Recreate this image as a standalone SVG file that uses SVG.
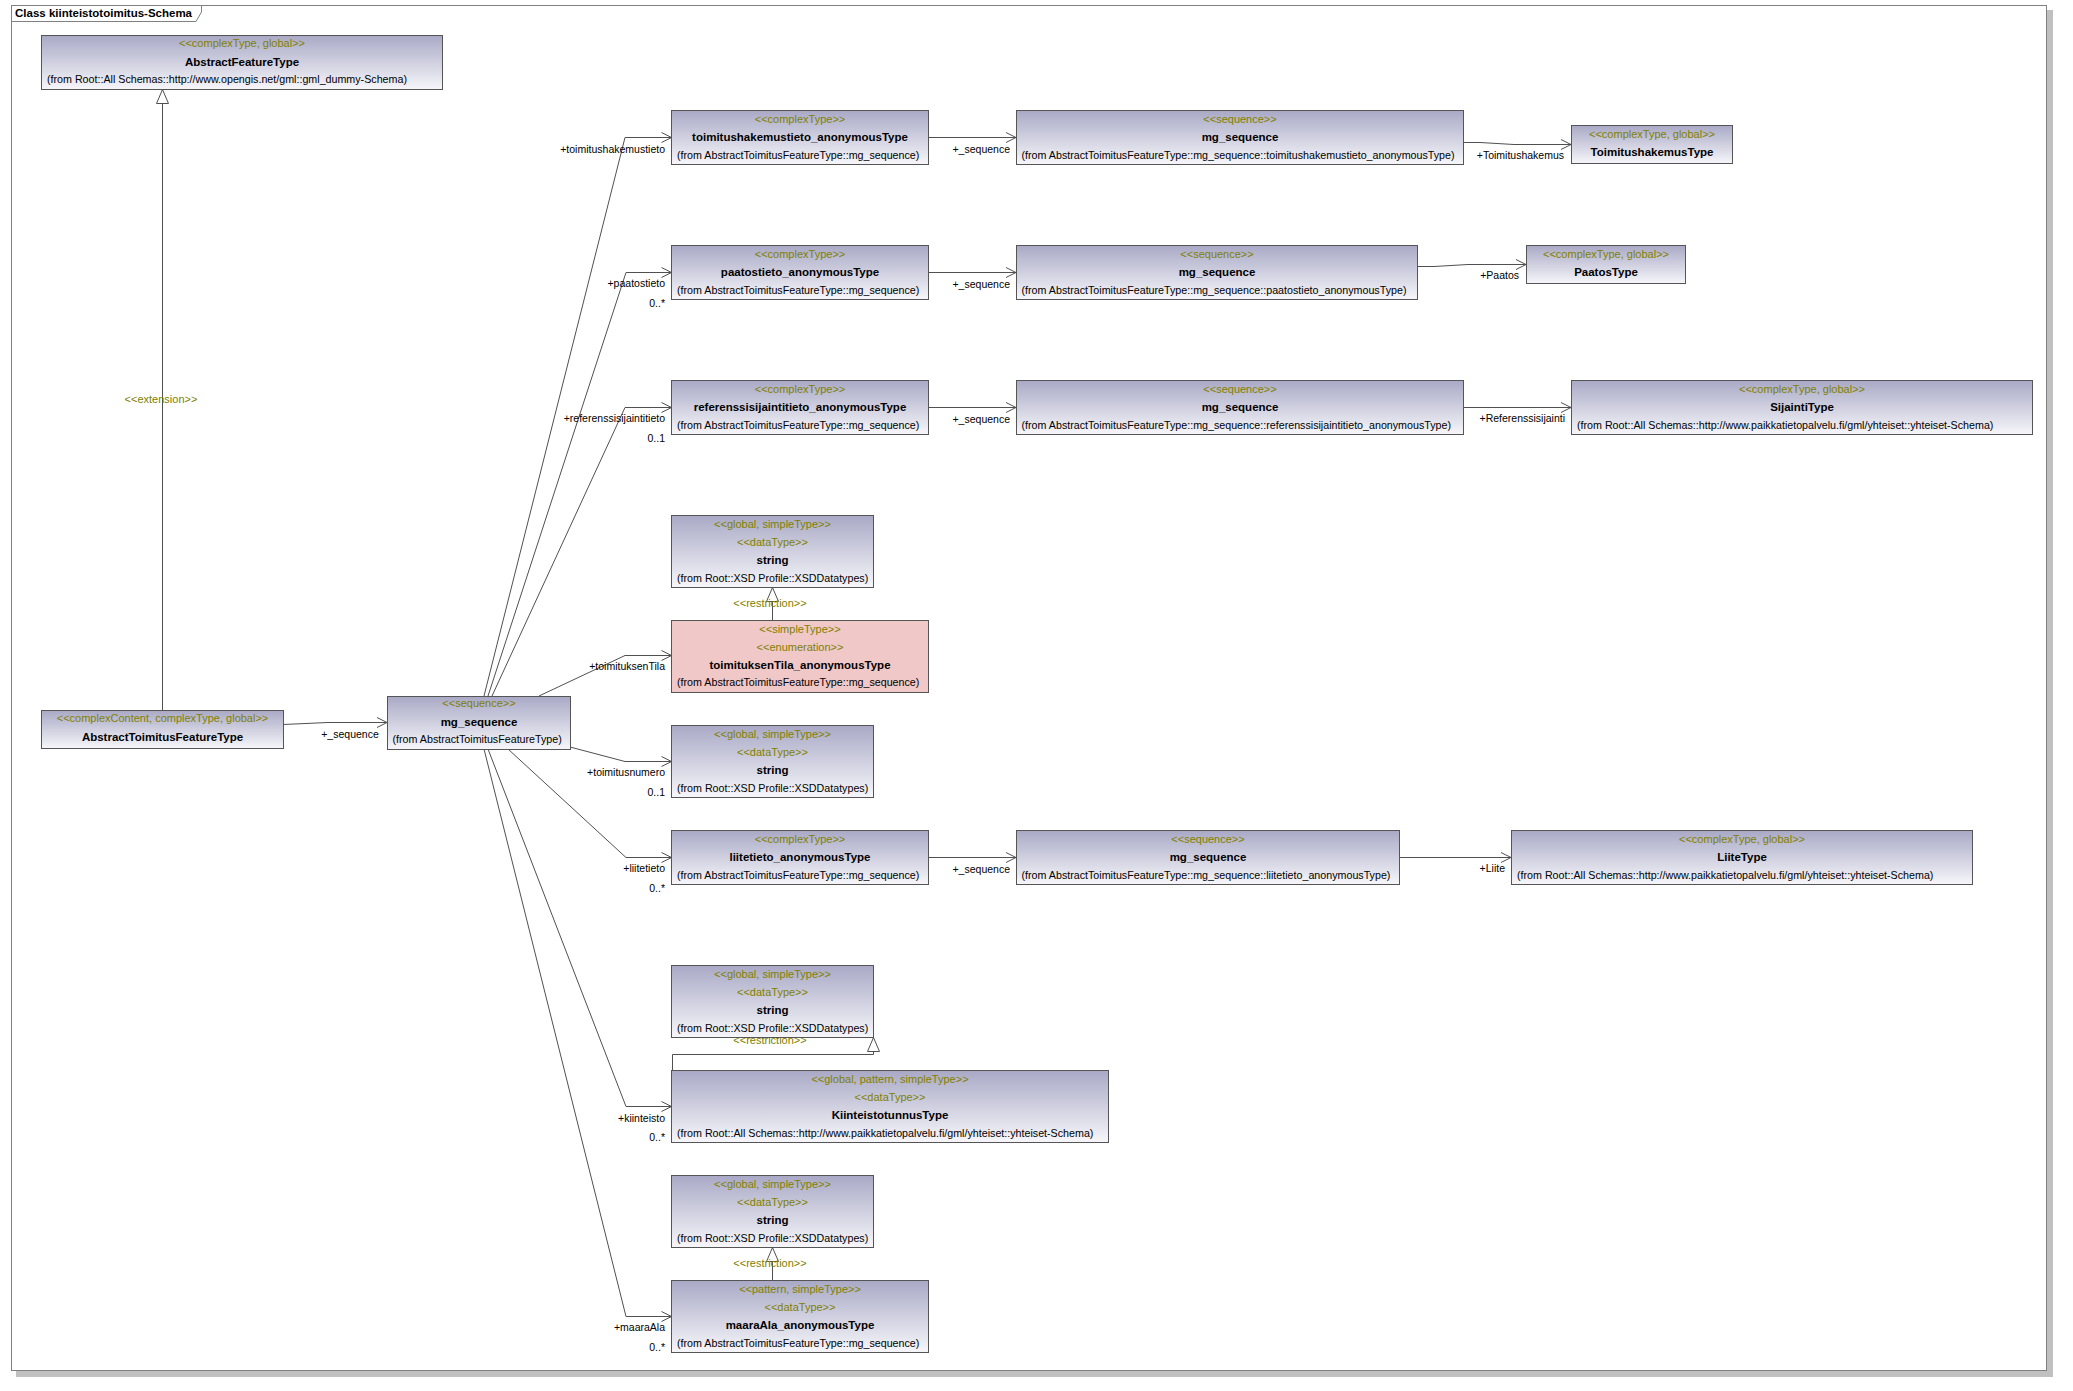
<svg xmlns="http://www.w3.org/2000/svg" width="2073" height="1391" viewBox="0 0 2073 1391">
<defs>
<linearGradient id="g" x1="0" y1="0" x2="0" y2="1">
<stop offset="0" stop-color="#a9a9c6"/>
<stop offset="1" stop-color="#f6f6fa"/>
</linearGradient>
<marker id="open" viewBox="0 0 12 12" refX="11" refY="6" markerWidth="12" markerHeight="12" markerUnits="userSpaceOnUse" orient="auto">
<path d="M1,1 L11,6 L1,11" fill="none" stroke="#505050" stroke-width="1"/>
</marker>
<marker id="tri" viewBox="0 0 16 14" refX="15" refY="7" markerWidth="16" markerHeight="14" markerUnits="userSpaceOnUse" orient="auto">
<path d="M1,1 L15,7 L1,13 Z" fill="#ffffff" stroke="#505050" stroke-width="1"/>
</marker>
<style>
.box{fill:url(#g);stroke:#555555;stroke-width:1}
.pink{fill:#f0c8c8;stroke:#555555;stroke-width:1}
text{font-family:"Liberation Sans",Arial,sans-serif}
.st{font-size:11px;fill:#808000;text-anchor:middle}
.nm{font-size:11.5px;font-weight:bold;fill:#000000;text-anchor:middle}
.fr{font-size:10.7px;fill:#000000}
.lb{font-size:10.5px;fill:#000000}
.r{text-anchor:end}
.m{text-anchor:middle}
.c{stroke:#505050;stroke-width:1;fill:none}
</style>
</defs>
<rect x="0" y="0" width="2073" height="1391" fill="#ffffff"/>
<g id="frame">
<rect x="2047" y="10" width="6" height="1367" fill="#c0c0c0"/>
<rect x="16" y="1371" width="2037" height="6" fill="#c0c0c0"/>
<rect x="11.5" y="5.5" width="2035" height="1365" fill="none" stroke="#808080" stroke-width="1"/>
<path d="M11.5,5.5 H201.5 V12 L196,21.5 H11.5 Z" fill="#ffffff" stroke="#808080" stroke-width="1"/>
<text x="15" y="17" style="font-size:11.5px;font-weight:bold;fill:#000">Class kiinteistotoimitus-Schema</text>
</g>
<g id="connectors">
<path class="c" d="M162.5,711 V89.5" marker-end="url(#tri)"/>
<path class="c" d="M283,724.5 L328,722.5 H387" marker-end="url(#open)"/>
<path class="c" d="M484,696 L625,137.5 H671.5" marker-end="url(#open)"/>
<path class="c" d="M488,696 L626,272.5 H671.5" marker-end="url(#open)"/>
<path class="c" d="M492,696 L625,407.5 H671.5" marker-end="url(#open)"/>
<path class="c" d="M539,696 L625,655.5 H671.5" marker-end="url(#open)"/>
<path class="c" d="M570,747 L625,761.5 H671.5" marker-end="url(#open)"/>
<path class="c" d="M508,749 L626,857.5 H671.5" marker-end="url(#open)"/>
<path class="c" d="M488,749 L626,1106.5 H671.5" marker-end="url(#open)"/>
<path class="c" d="M484,749 L626,1316.5 H671.5" marker-end="url(#open)"/>
<path class="c" d="M928.5,137.5 H1016" marker-end="url(#open)"/>
<path class="c" d="M928.5,272.5 H1016" marker-end="url(#open)"/>
<path class="c" d="M928.5,407.5 H1016" marker-end="url(#open)"/>
<path class="c" d="M928.5,857.5 H1016" marker-end="url(#open)"/>
<path class="c" d="M1463.5,142.5 H1480 L1514,144.5 H1571" marker-end="url(#open)"/>
<path class="c" d="M1417.5,266.5 H1434 L1468,264.5 H1526" marker-end="url(#open)"/>
<path class="c" d="M1463.5,407.5 H1571" marker-end="url(#open)"/>
<path class="c" d="M1399.5,857.5 H1511" marker-end="url(#open)"/>
<path class="c" d="M772.5,620 V587.5" marker-end="url(#tri)"/>
<path class="c" d="M672.5,1070 V1054.5 H873.5 V1037.5" marker-end="url(#tri)"/>
<path class="c" d="M772.5,1280 V1247.5" marker-end="url(#tri)"/>
<text class="lb r" x="665" y="153">+toimitushakemustieto</text>
<text class="lb r" x="665" y="287">+paatostieto</text>
<text class="lb r" x="665" y="307">0..*</text>
<text class="lb r" x="665" y="422">+referenssisijaintitieto</text>
<text class="lb r" x="665" y="442">0..1</text>
<text class="lb r" x="665" y="670">+toimituksenTila</text>
<text class="lb r" x="665" y="776">+toimitusnumero</text>
<text class="lb r" x="665" y="796">0..1</text>
<text class="lb r" x="665" y="872">+liitetieto</text>
<text class="lb r" x="665" y="892">0..*</text>
<text class="lb r" x="665" y="1122">+kiinteisto</text>
<text class="lb r" x="665" y="1141">0..*</text>
<text class="lb r" x="665" y="1331">+maaraAla</text>
<text class="lb r" x="665" y="1351">0..*</text>
<text class="lb m" x="350" y="738">+_sequence</text>
<text class="lb r" x="1010" y="153">+_sequence</text>
<text class="lb r" x="1010" y="288">+_sequence</text>
<text class="lb r" x="1010" y="423">+_sequence</text>
<text class="lb r" x="1010" y="873">+_sequence</text>
<text class="lb r" x="1564" y="159">+Toimitushakemus</text>
<text class="lb r" x="1519" y="279">+Paatos</text>
<text class="lb r" x="1565" y="422">+Referenssisijainti</text>
<text class="lb r" x="1505" y="872">+Liite</text>
<text class="st" x="161" y="403">&lt;&lt;extension&gt;&gt;</text>
<text class="st" x="770" y="607">&lt;&lt;restriction&gt;&gt;</text>
<text class="st" x="770" y="1044">&lt;&lt;restriction&gt;&gt;</text>
<text class="st" x="770" y="1267">&lt;&lt;restriction&gt;&gt;</text>
</g>
<g id="AbstractFeatureType">
<rect class="box" x="41.5" y="35.5" width="401" height="54"/>
<text class="st" x="242" y="47">&lt;&lt;complexType, global&gt;&gt;</text>
<text class="nm" x="242" y="65.5">AbstractFeatureType</text>
<text class="fr" x="47" y="83">(from Root::All Schemas::http://www.opengis.net/gml::gml_dummy-Schema)</text>
</g>
<g id="AbstractToimitusFeatureType">
<rect class="box" x="41.5" y="710.5" width="242" height="38"/>
<text class="st" x="162.5" y="722">&lt;&lt;complexContent, complexType, global&gt;&gt;</text>
<text class="nm" x="162.5" y="740.5">AbstractToimitusFeatureType</text>
</g>
<g id="mg_sequence_main">
<rect class="box" x="387.5" y="696.5" width="183" height="53"/>
<text class="st" x="479" y="707">&lt;&lt;sequence&gt;&gt;</text>
<text class="nm" x="479" y="725.5">mg_sequence</text>
<text class="fr" x="392.5" y="743">(from AbstractToimitusFeatureType)</text>
</g>
<g id="toimitushakemustieto_anonymousType">
<rect class="box" x="671.5" y="110.5" width="257" height="54"/>
<text class="st" x="800" y="123">&lt;&lt;complexType&gt;&gt;</text>
<text class="nm" x="800" y="140.5">toimitushakemustieto_anonymousType</text>
<text class="fr" x="677" y="158.5">(from AbstractToimitusFeatureType::mg_sequence)</text>
</g>
<g id="mg_sequence_1">
<rect class="box" x="1016.5" y="110.5" width="447" height="54"/>
<text class="st" x="1240" y="123">&lt;&lt;sequence&gt;&gt;</text>
<text class="nm" x="1240" y="140.5">mg_sequence</text>
<text class="fr" x="1021.5" y="158.5">(from AbstractToimitusFeatureType::mg_sequence::toimitushakemustieto_anonymousType)</text>
</g>
<g id="ToimitushakemusType">
<rect class="box" x="1571.5" y="125.5" width="161" height="38"/>
<text class="st" x="1652" y="137.5">&lt;&lt;complexType, global&gt;&gt;</text>
<text class="nm" x="1652" y="155.5">ToimitushakemusType</text>
</g>
<g id="paatostieto_anonymousType">
<rect class="box" x="671.5" y="245.5" width="257" height="54"/>
<text class="st" x="800" y="257.5">&lt;&lt;complexType&gt;&gt;</text>
<text class="nm" x="800" y="275.5">paatostieto_anonymousType</text>
<text class="fr" x="677" y="293.5">(from AbstractToimitusFeatureType::mg_sequence)</text>
</g>
<g id="mg_sequence_2">
<rect class="box" x="1016.5" y="245.5" width="401" height="54"/>
<text class="st" x="1217" y="257.5">&lt;&lt;sequence&gt;&gt;</text>
<text class="nm" x="1217" y="275.5">mg_sequence</text>
<text class="fr" x="1021.5" y="293.5">(from AbstractToimitusFeatureType::mg_sequence::paatostieto_anonymousType)</text>
</g>
<g id="PaatosType">
<rect class="box" x="1526.5" y="245.5" width="159" height="38"/>
<text class="st" x="1606" y="257.5">&lt;&lt;complexType, global&gt;&gt;</text>
<text class="nm" x="1606" y="275.5">PaatosType</text>
</g>
<g id="referenssisijaintitieto_anonymousType">
<rect class="box" x="671.5" y="380.5" width="257" height="54"/>
<text class="st" x="800" y="392.5">&lt;&lt;complexType&gt;&gt;</text>
<text class="nm" x="800" y="410.5">referenssisijaintitieto_anonymousType</text>
<text class="fr" x="677" y="428.5">(from AbstractToimitusFeatureType::mg_sequence)</text>
</g>
<g id="mg_sequence_3">
<rect class="box" x="1016.5" y="380.5" width="447" height="54"/>
<text class="st" x="1240" y="392.5">&lt;&lt;sequence&gt;&gt;</text>
<text class="nm" x="1240" y="410.5">mg_sequence</text>
<text class="fr" x="1021.5" y="428.5">(from AbstractToimitusFeatureType::mg_sequence::referenssisijaintitieto_anonymousType)</text>
</g>
<g id="SijaintiType">
<rect class="box" x="1571.5" y="380.5" width="461" height="54"/>
<text class="st" x="1802" y="392.5">&lt;&lt;complexType, global&gt;&gt;</text>
<text class="nm" x="1802" y="410.5">SijaintiType</text>
<text class="fr" x="1577" y="428.5">(from Root::All Schemas::http://www.paikkatietopalvelu.fi/gml/yhteiset::yhteiset-Schema)</text>
</g>
<g id="string_1">
<rect class="box" x="671.5" y="515.5" width="202" height="72"/>
<text class="st" x="772.5" y="527.5">&lt;&lt;global, simpleType&gt;&gt;</text>
<text class="st" x="772.5" y="545.5">&lt;&lt;dataType&gt;&gt;</text>
<text class="nm" x="772.5" y="563.5">string</text>
<text class="fr" x="677" y="581.5">(from Root::XSD Profile::XSDDatatypes)</text>
</g>
<g id="toimituksenTila_anonymousType">
<rect class="pink" x="671.5" y="620.5" width="257" height="72"/>
<text class="st" x="800" y="632.5">&lt;&lt;simpleType&gt;&gt;</text>
<text class="st" x="800" y="650.5">&lt;&lt;enumeration&gt;&gt;</text>
<text class="nm" x="800" y="668.5">toimituksenTila_anonymousType</text>
<text class="fr" x="677" y="685.5">(from AbstractToimitusFeatureType::mg_sequence)</text>
</g>
<g id="string_2">
<rect class="box" x="671.5" y="725.5" width="202" height="72"/>
<text class="st" x="772.5" y="737.5">&lt;&lt;global, simpleType&gt;&gt;</text>
<text class="st" x="772.5" y="755.5">&lt;&lt;dataType&gt;&gt;</text>
<text class="nm" x="772.5" y="773.5">string</text>
<text class="fr" x="677" y="791.5">(from Root::XSD Profile::XSDDatatypes)</text>
</g>
<g id="liitetieto_anonymousType">
<rect class="box" x="671.5" y="830.5" width="257" height="54"/>
<text class="st" x="800" y="842.5">&lt;&lt;complexType&gt;&gt;</text>
<text class="nm" x="800" y="860.5">liitetieto_anonymousType</text>
<text class="fr" x="677" y="878.5">(from AbstractToimitusFeatureType::mg_sequence)</text>
</g>
<g id="mg_sequence_4">
<rect class="box" x="1016.5" y="830.5" width="383" height="54"/>
<text class="st" x="1208" y="842.5">&lt;&lt;sequence&gt;&gt;</text>
<text class="nm" x="1208" y="860.5">mg_sequence</text>
<text class="fr" x="1021.5" y="878.5">(from AbstractToimitusFeatureType::mg_sequence::liitetieto_anonymousType)</text>
</g>
<g id="LiiteType">
<rect class="box" x="1511.5" y="830.5" width="461" height="54"/>
<text class="st" x="1742" y="842.5">&lt;&lt;complexType, global&gt;&gt;</text>
<text class="nm" x="1742" y="860.5">LiiteType</text>
<text class="fr" x="1517" y="878.5">(from Root::All Schemas::http://www.paikkatietopalvelu.fi/gml/yhteiset::yhteiset-Schema)</text>
</g>
<g id="string_3">
<rect class="box" x="671.5" y="965.5" width="202" height="72"/>
<text class="st" x="772.5" y="977.5">&lt;&lt;global, simpleType&gt;&gt;</text>
<text class="st" x="772.5" y="995.5">&lt;&lt;dataType&gt;&gt;</text>
<text class="nm" x="772.5" y="1013.5">string</text>
<text class="fr" x="677" y="1031.5">(from Root::XSD Profile::XSDDatatypes)</text>
</g>
<g id="KiinteistotunnusType">
<rect class="box" x="671.5" y="1070.5" width="437" height="72"/>
<text class="st" x="890" y="1082.5">&lt;&lt;global, pattern, simpleType&gt;&gt;</text>
<text class="st" x="890" y="1100.5">&lt;&lt;dataType&gt;&gt;</text>
<text class="nm" x="890" y="1118.5">KiinteistotunnusType</text>
<text class="fr" x="677" y="1136.5">(from Root::All Schemas::http://www.paikkatietopalvelu.fi/gml/yhteiset::yhteiset-Schema)</text>
</g>
<g id="string_4">
<rect class="box" x="671.5" y="1175.5" width="202" height="72"/>
<text class="st" x="772.5" y="1187.5">&lt;&lt;global, simpleType&gt;&gt;</text>
<text class="st" x="772.5" y="1205.5">&lt;&lt;dataType&gt;&gt;</text>
<text class="nm" x="772.5" y="1223.5">string</text>
<text class="fr" x="677" y="1241.5">(from Root::XSD Profile::XSDDatatypes)</text>
</g>
<g id="maaraAla_anonymousType">
<rect class="box" x="671.5" y="1280.5" width="257" height="72"/>
<text class="st" x="800" y="1292.5">&lt;&lt;pattern, simpleType&gt;&gt;</text>
<text class="st" x="800" y="1310.5">&lt;&lt;dataType&gt;&gt;</text>
<text class="nm" x="800" y="1328.5">maaraAla_anonymousType</text>
<text class="fr" x="677" y="1346.5">(from AbstractToimitusFeatureType::mg_sequence)</text>
</g>
</svg>
